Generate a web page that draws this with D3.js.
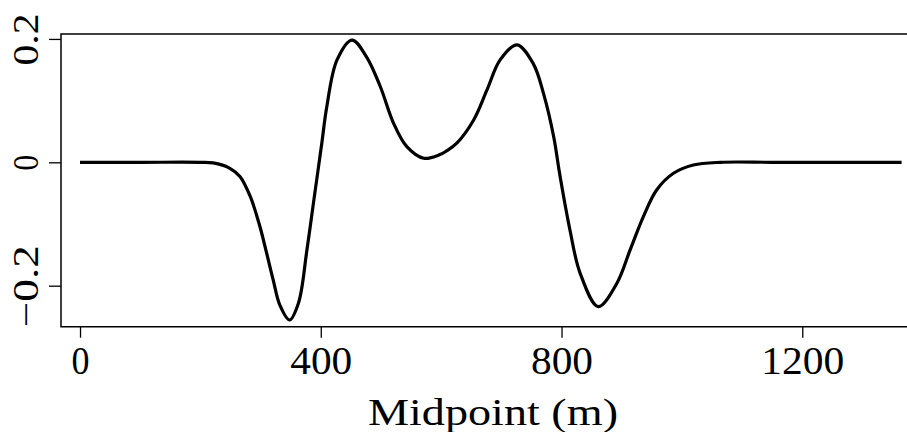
<!DOCTYPE html>
<html>
<head>
<meta charset="utf-8">
<script src="https://cdn.jsdelivr.net/npm/d3@7"></script>
<style>
  html, body { margin: 0; padding: 0; background: #fff; }
  svg { display: block; }
  text { font-family: "Liberation Serif", "Times New Roman", serif; fill: #000; }
</style>
</head>
<body>
<svg id="chart" width="907" height="432"></svg>
<script>
// ---- data ----
const midpoint = [0, 100, 200, 221, 249, 266, 283, 299, 310, 321, 332, 348, 363, 377, 388, 396, 402, 410, 427, 452, 476, 499, 521, 543, 571, 598, 609, 626, 654, 676, 698, 726, 753, 770, 787, 795, 798, 814, 831, 861, 892, 914, 936, 958, 986, 1019, 1064, 1150, 1250, 1365];
const amplitude = [0, 0, 0, -0.001, -0.0097, -0.0233, -0.0558, -0.1044, -0.147, -0.191, -0.2315, -0.2556, -0.228, -0.142, -0.065, -0.009, 0.033, 0.090, 0.166, 0.1982, 0.171, 0.1225, 0.0632, 0.0253, 0.0065, 0.0125, 0.0185, 0.031, 0.0686, 0.117, 0.166, 0.1905, 0.160, 0.1118, 0.0415, -0.0071, -0.025, -0.1097, -0.180, -0.234, -0.196, -0.142, -0.088, -0.0449, -0.0178, -0.0044, 0, 0, 0, 0];
const xTicks = [0, 400, 800, 1200];
const xTickLabels = ["0", "400", "800", "1200"];
const yTicks = [-0.2, 0, 0.2];
const yTickLabels = ["\u22120.2", "0", "0.2"];
const xTitle = "Midpoint (m)";

(function () {
  // ---- layout ----
  const mLeft = 61, mRight = 907, mTop = 34, mBottom = 326.7;
  const svg = d3.select("#chart");

  const x = d3.scaleLinear().domain([-31.6, 1374]).range([mLeft, mRight]);
  const y = d3.scaleLinear().domain([-0.2665, 0.208]).range([mBottom, mTop]);

  // frame (left, top, bottom; right edge falls outside the view)
  svg.append("path")
    .attr("d", `M${mRight + 2},${mTop}H${mLeft}V${mBottom}H${mRight + 2}`)
    .attr("fill", "none").attr("stroke", "#000").attr("stroke-width", 1.5);

  // x axis
  const xAxis = svg.append("g")
    .attr("transform", `translate(0,${mBottom})`)
    .call(d3.axisBottom(x).tickValues(xTicks).tickSize(11).tickSizeOuter(0)
      .tickFormat((d, i) => xTickLabels[i]));
  xAxis.select(".domain").remove();
  xAxis.selectAll(".tick line").attr("stroke", "#000").attr("stroke-width", 1.3);
  const xWidths = [18, 62, 62, 83];
  xAxis.selectAll(".tick text")
    .attr("y", 47.3).attr("dy", 0)
    .attr("font-size", 40)
    .attr("textLength", (d, i) => xWidths[i])
    .attr("lengthAdjust", "spacingAndGlyphs")
    .style("font-family", "Liberation Serif");

  // y axis
  const yAxis = svg.append("g")
    .attr("transform", `translate(${mLeft},0)`)
    .call(d3.axisLeft(y).tickValues(yTicks).tickSize(12).tickSizeOuter(0)
      .tickFormat((d, i) => yTickLabels[i]));
  yAxis.select(".domain").remove();
  yAxis.selectAll(".tick line").attr("stroke", "#000").attr("stroke-width", 1.3);
  const yWidths = [82, 16, 52];
  yAxis.selectAll(".tick text")
    .attr("x", 0).attr("y", 0).attr("dy", 0)
    .attr("transform", "translate(-23,0) rotate(-90)")
    .attr("text-anchor", "middle")
    .attr("font-size", 35)
    .attr("textLength", (d, i) => yWidths[i])
    .attr("lengthAdjust", "spacingAndGlyphs")
    .style("font-family", "Liberation Serif");

  // x title
  svg.append("text")
    .attr("x", 493).attr("y", 425)
    .attr("text-anchor", "middle")
    .attr("font-size", 38)
    .attr("textLength", 250)
    .attr("lengthAdjust", "spacingAndGlyphs")
    .text(xTitle);

  // curve
  const pts = midpoint.map((m, i) => [m, amplitude[i]]);
  const line = d3.line().x(d => x(d[0])).y(d => y(d[1])).curve(d3.curveCatmullRom.alpha(0.5));
  svg.append("path")
    .datum(pts)
    .attr("d", line)
    .attr("fill", "none")
    .attr("stroke", "#000")
    .attr("stroke-width", 3.2)
    .attr("stroke-linejoin", "round")
    .attr("stroke-linecap", "butt");
})();
</script>
</body>
</html>
